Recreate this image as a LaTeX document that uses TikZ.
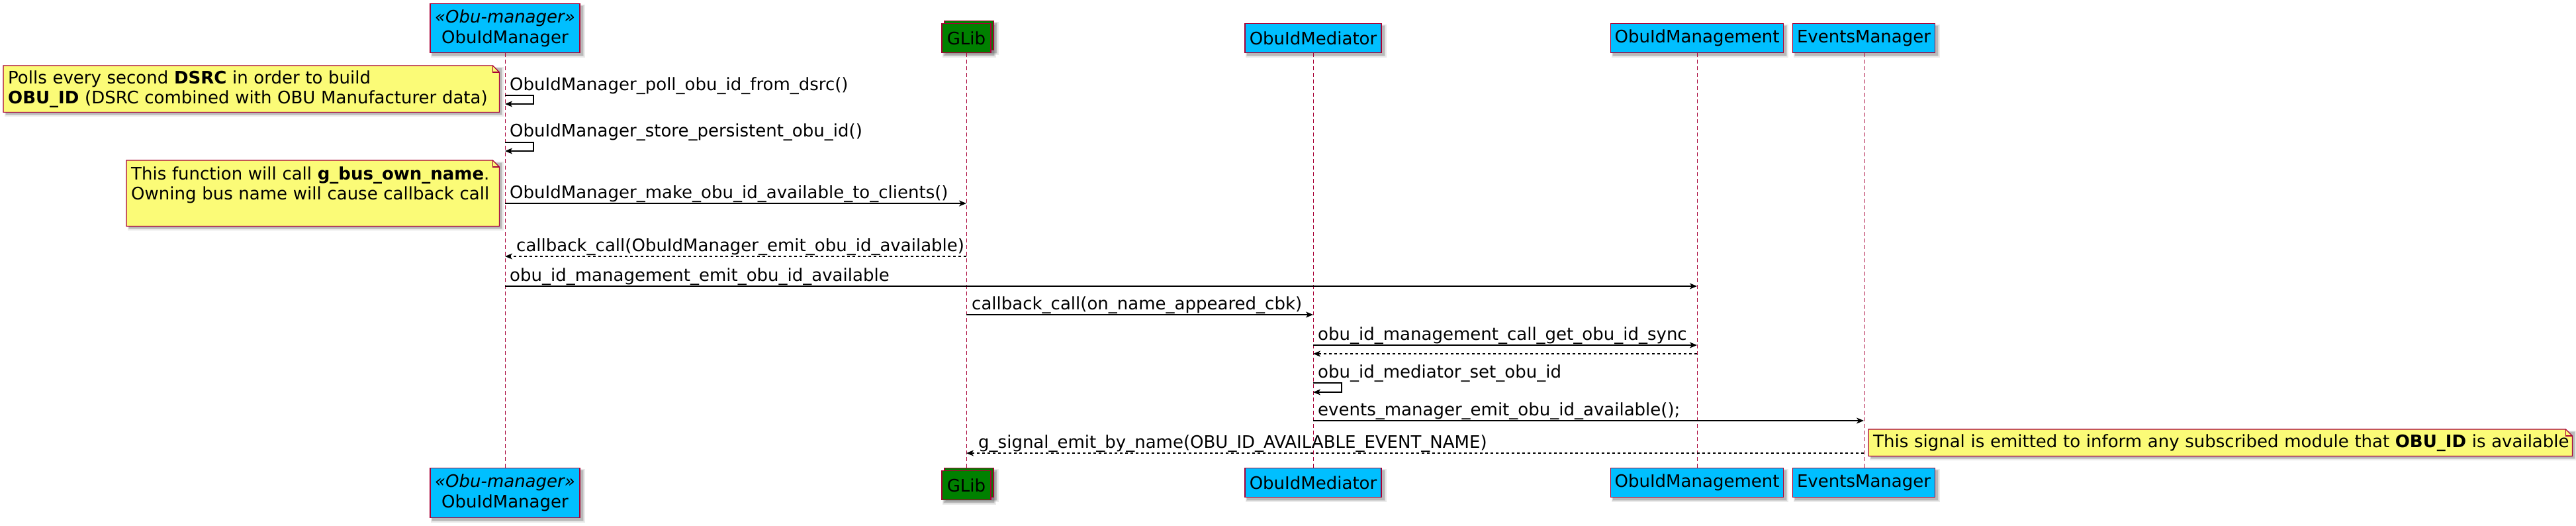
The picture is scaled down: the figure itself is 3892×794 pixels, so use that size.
\documentclass[tikz,border=0pt]{standalone}
\usepackage{fontspec}
\setmainfont{DejaVu Sans}
\usetikzlibrary{arrows.meta,calc,backgrounds}
\definecolor{pred}{HTML}{A80036}
\definecolor{pblue}{HTML}{00BFFF}
\definecolor{pgreen}{HTML}{008000}
\definecolor{pnote}{HTML}{FBFB77}
\newcommand\myshadow[1]{%
 \fill[black,opacity=0.08] ($(#1.north west)+(2,2)$) rectangle ($(#1.south east)+(7,7)$);
 \fill[black,opacity=0.10] ($(#1.north west)+(3,3)$) rectangle ($(#1.south east)+(5,5)$);
 \fill[black,opacity=0.12] ($(#1.north west)+(4,4)$) rectangle ($(#1.south east)+(4,4)$);}
\begin{document}
\begin{tikzpicture}[x=1pt,y=-1pt,
  every node/.style={font=\fontsize{26}{31}\selectfont, inner sep=0pt},
  part/.style={draw=pred, line width=1.2pt, fill=pblue, minimum height=44pt, anchor=north, align=center},
  glib/.style={part, fill=pgreen},
  life/.style={pred, line width=1pt, dash pattern=on 6pt off 4pt},
  msg/.style={line width=1.2pt, -{Stealth[length=11pt,width=9pt,inset=3pt]}},
  ret/.style={msg, dash pattern=on 4pt off 4pt},
  lbl/.style={anchor=base west},
  notebox/.style={anchor=north west, align=left, inner xsep=7pt, font=\fontsize{26}{30}\selectfont},
  notefill/.style={fill=pnote, draw=pred, line width=1.2pt, line join=miter},
  fold/.style={draw=pred, line width=1.2pt}]
\useasboundingbox (0,0) rectangle (3892,794);

% participants (top)
\node[part, minimum width=226pt, minimum height=74pt] (pM) at (763,5) {\textit{«Obu-manager»}\\ObuIdManager};
\node[glib, minimum width=74pt] (pGb) at (1464,31) {};
\node[glib, minimum width=74pt] (pG) at (1460,35) {GLib};
\node[part, minimum width=206pt] (pMed) at (1984,35) {ObuIdMediator};
\node[part, minimum width=261pt] (pMgt) at (2564,35) {ObuIdManagement};
\node[part, minimum width=215pt] (pEv) at (2816,35) {EventsManager};

% participants (bottom)
\node[part, minimum width=226pt, minimum height=75pt] (qM) at (763,706) {\textit{«Obu-manager»}\\ObuIdManager};
\node[glib, minimum width=74pt] (qGb) at (1464,706) {};
\node[glib, minimum width=74pt] (qG) at (1460,710) {GLib};
\node[part, minimum width=206pt] (qMed) at (1984,706) {ObuIdMediator};
\node[part, minimum width=261pt] (qMgt) at (2564,706) {ObuIdManagement};
\node[part, minimum width=215pt] (qEv) at (2816,706) {EventsManager};

% notes
\node[notebox, text width=735pt, minimum height=70pt] (n1) at (5,99)
  {\mbox{Polls every second \textbf{DSRC} in order to build}\\\mbox{\textbf{OBU\_ID} (DSRC combined with OBU Manufacturer data)}};
\node[notebox, text width=549pt, minimum height=99pt] (n2) at (191,242)
  {\mbox{This function will call \textbf{g\_bus\_own\_name}.}\\\mbox{Owning bus name will cause callback call}\\\mbox{}};
\node[notebox, text width=1049pt, minimum height=40pt] (n3) at (2823,648)
  {\mbox{This signal is emitted to inform any subscribed module that \textbf{OBU\_ID} is available}};

\begin{scope}[on background layer]
  \myshadow{pM}\myshadow{pGb}\myshadow{pG}\myshadow{pMed}\myshadow{pMgt}\myshadow{pEv}
  \myshadow{qM}\myshadow{qGb}\myshadow{qG}\myshadow{qMed}\myshadow{qMgt}\myshadow{qEv}
  \myshadow{n1}\myshadow{n2}\myshadow{n3}
  \path[notefill] (n1.north west) -- ($(n1.north east)+(-10,0)$) -- ($(n1.north east)+(0,10)$) -- (n1.south east) -- (n1.south west) -- cycle;
  \path[notefill] (n2.north west) -- ($(n2.north east)+(-10,0)$) -- ($(n2.north east)+(0,10)$) -- (n2.south east) -- (n2.south west) -- cycle;
  \path[notefill] (n3.north west) -- ($(n3.north east)+(-10,0)$) -- ($(n3.north east)+(0,10)$) -- (n3.south east) -- (n3.south west) -- cycle;
  \draw[fold] ($(n1.north east)+(-10,0)$) -- ++(0,10) -- ++(10,0);
  \draw[fold] ($(n2.north east)+(-10,0)$) -- ++(0,10) -- ++(10,0);
  \draw[fold] ($(n3.north east)+(-10,0)$) -- ++(0,10) -- ++(10,0);
\end{scope}

% lifelines
\draw[life] (pM.south) -- (qM.north);
\draw[life] (pG.south) -- (pG.south |- qGb.north);
\draw[life] (pMed.south) -- (qMed.north);
\draw[life] (pMgt.south) -- (qMgt.north);
\draw[life] (pEv.south) -- (qEv.north);

% messages
\node[lbl] (t1) at (770,137) {ObuIdManager\_poll\_obu\_id\_from\_dsrc()};
\draw[msg] (pM.south |- 0,144) -- ++(43,0) -- ++(0,13) -- (pM.south |- 0,157);

\node[lbl] (t2) at (770,207) {ObuIdManager\_store\_persistent\_obu\_id()};
\draw[msg] (pM.south |- 0,215) -- ++(43,0) -- ++(0,13) -- (pM.south |- 0,228);

\node[lbl] (t3) at (770,299) {ObuIdManager\_make\_obu\_id\_available\_to\_clients()};
\draw[msg] (pM.south |- 0,307) -- (pG.south |- 0,307);

\node[lbl] (t4) at (780,379) {callback\_call(ObuIdManager\_emit\_obu\_id\_available)};
\draw[ret] (pG.south |- 0,387) -- (pM.south |- 0,387);

\node[lbl] (t5) at (770,424) {obu\_id\_management\_emit\_obu\_id\_available};
\draw[msg] (pM.south |- 0,432) -- (pMgt.south |- 0,432);

\node[lbl] (t6) at (1468,467) {callback\_call(on\_name\_appeared\_cbk)};
\draw[msg] (pG.south |- 0,475) -- (pMed.south |- 0,475);

\node[lbl] (t7) at (1991,513) {obu\_id\_management\_call\_get\_obu\_id\_sync};
\draw[msg] (pMed.south |- 0,521) -- (pMgt.south |- 0,521);

\draw[ret] (pMgt.south |- 0,534) -- (pMed.south |- 0,534);

\node[lbl] (t8) at (1991,570) {obu\_id\_mediator\_set\_obu\_id};
\draw[msg] (pMed.south |- 0,578) -- ++(43,0) -- ++(0,14) -- (pMed.south |- 0,592);

\node[lbl] (t9) at (1991,627) {events\_manager\_emit\_obu\_id\_available();};
\draw[msg] (pMed.south |- 0,635) -- (pEv.south |- 0,635);

\node[lbl] (t10) at (1478,676) {g\_signal\_emit\_by\_name(OBU\_ID\_AVAILABLE\_EVENT\_NAME)};
\draw[ret] (pEv.south |- 0,684) -- (pG.south |- 0,684);
\end{tikzpicture}
\end{document}
